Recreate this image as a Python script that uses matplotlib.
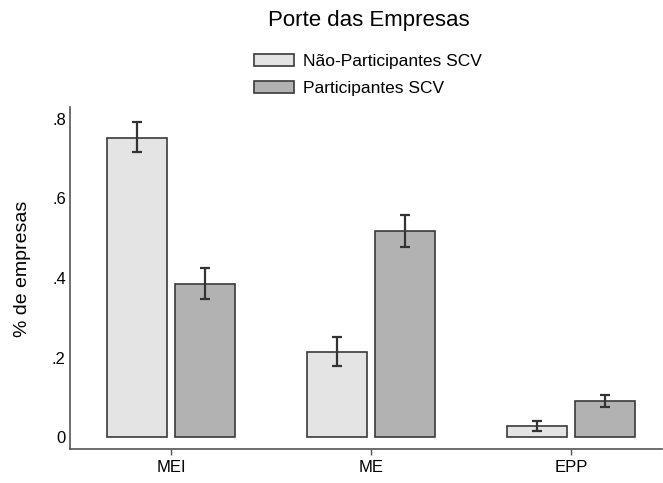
import numpy as np
import matplotlib
matplotlib.use('Agg')
import matplotlib.pyplot as plt
from matplotlib.ticker import FuncFormatter

plt.rcParams['font.family'] = ['Liberation Sans', 'DejaVu Sans']

# data
categories = ['MEI', 'ME', 'EPP']
series_names = ['Não-Participantes SCV', 'Participantes SCV']
nao_part = [0.753, 0.214, 0.028]
nao_part_lo = [0.718, 0.179, 0.015]
nao_part_hi = [0.793, 0.252, 0.040]
part = [0.385, 0.518, 0.091]
part_lo = [0.347, 0.478, 0.076]
part_hi = [0.425, 0.558, 0.106]
yticks = [0, 0.2, 0.4, 0.6, 0.8]

fig = plt.figure(figsize=(6.63, 4.83), dpi=100)
ax = fig.add_axes([0.1056, 0.0704, 0.893, 0.708])

x = np.arange(len(categories))
width = 0.3
offset = 0.17
colors = ['#e4e4e4', '#b2b2b2']
edge = '#3a3a3a'

for vals, lo, hi, off, col, name in [
        (nao_part, nao_part_lo, nao_part_hi, -offset, colors[0], series_names[0]),
        (part, part_lo, part_hi, offset, colors[1], series_names[1])]:
    vals = np.array(vals)
    err = [vals - np.array(lo), np.array(hi) - vals]
    ax.bar(x + off, vals, width, color=col, edgecolor=edge, linewidth=1.2, label=name)
    ax.errorbar(x + off, vals, yerr=err, fmt='none', ecolor='#333333',
                elinewidth=1.6, capsize=3.5, capthick=1.6)

ax.set_xlim(-0.505, 2.455)
ax.set_ylim(-0.03, 0.83)
ax.set_xticks(x)
ax.set_xticklabels(categories)
ax.set_yticks(yticks)
ax.yaxis.set_major_formatter(FuncFormatter(lambda v, p: '0' if v == 0 else ('%.1f' % v).lstrip('0')))
ax.tick_params(axis='x', labelsize=12, length=4, color='#555555', width=1, pad=4)
ax.tick_params(axis='y', labelsize=12, length=0, pad=3)
for s in ['top', 'right']:
    ax.spines[s].set_visible(False)
for s in ['left', 'bottom']:
    ax.spines[s].set_color('#555555')
    ax.spines[s].set_linewidth(1.2)
ax.set_ylabel('% de empresas', fontsize=14)
ax.yaxis.set_label_coords(-0.066, 0.526)

fig.text(0.556, 0.957, 'Porte das Empresas', ha='center', va='center', fontsize=16)
fig.legend(loc='upper left', bbox_to_anchor=(0.3825, 0.888), frameon=False,
           fontsize=12.5, handlelength=2.3, handleheight=0.69, labelspacing=0.68,
           handletextpad=0.57, borderpad=0, borderaxespad=0)

fig.savefig('out.png', dpi=100)
